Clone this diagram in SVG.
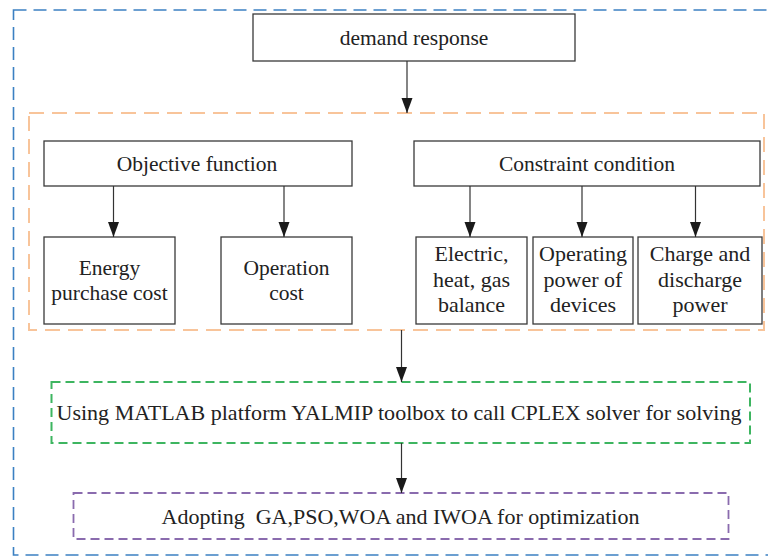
<svg xmlns="http://www.w3.org/2000/svg" width="768" height="556" viewBox="0 0 768 556">
<style>
  .box { fill: #ffffff; stroke: #3a3a3a; stroke-width: 1.3; }
  .conn { stroke: #333333; stroke-width: 1.2; fill: none; marker-end: url(#arr); }
</style>
<defs>
  <marker id="arr" markerUnits="userSpaceOnUse" markerWidth="16" markerHeight="12" refX="15" refY="5.5" orient="auto" viewBox="0 0 16 11">
    <path d="M0,0 L15,5.5 L0,11 Z" fill="#1a1a1a"/>
  </marker>
</defs>
<rect width="768" height="556" fill="#ffffff"/>

<g id="frame-outer">
  <rect x="13.5" y="10" width="770" height="545" fill="none" stroke="#3B80C2" stroke-width="1.6" stroke-dasharray="13,7"/>
</g>
<g id="frame-model">
  <rect x="29" y="113" width="735" height="217" fill="none" stroke="#F8C49A" stroke-width="2" stroke-dasharray="15,8"/>
</g>

<g font-family="'Liberation Serif', 'Times New Roman', serif" font-size="21.5" fill="#222222" text-anchor="middle">
<g id="demand-response">
  <rect class="box" x="253" y="14" width="322" height="47"/>
  <text x="414" y="44.5">demand response</text>
</g>
<g id="objective-function">
  <rect class="box" x="44" y="141" width="308" height="45"/>
  <text x="197" y="171">Objective function</text>
</g>
<g id="constraint-condition">
  <rect class="box" x="414" y="141" width="346" height="45"/>
  <text x="587" y="171">Constraint condition</text>
</g>
<g id="energy-purchase-cost">
  <rect class="box" x="44" y="237" width="131" height="87"/>
  <text x="109.5" y="275">Energy</text>
  <text x="109.5" y="300">purchase cost</text>
</g>
<g id="operation-cost">
  <rect class="box" x="221" y="237" width="131" height="87"/>
  <text x="286.5" y="275">Operation</text>
  <text x="286.5" y="300">cost</text>
</g>
<g id="balance" font-size="22">
  <rect class="box" x="416" y="237" width="111" height="87"/>
  <text x="471.5" y="261">Electric,</text>
  <text x="471.5" y="287">heat, gas</text>
  <text x="471.5" y="312">balance</text>
</g>
<g id="device-power" font-size="22">
  <rect class="box" x="533" y="237" width="100" height="87"/>
  <text x="583" y="261">Operating</text>
  <text x="583" y="287">power of</text>
  <text x="583" y="312">devices</text>
</g>
<g id="charge-discharge" font-size="22">
  <rect class="box" x="638" y="237" width="124" height="87"/>
  <text x="700" y="261">Charge and</text>
  <text x="700" y="287">discharge</text>
  <text x="700" y="312">power</text>
</g>

<g id="solver">
  <rect x="51.5" y="382" width="698.5" height="61" fill="none" stroke="#3DB560" stroke-width="2" stroke-dasharray="9,5"/>
  <text x="399" y="420" textLength="685" lengthAdjust="spacingAndGlyphs">Using MATLAB platform YALMIP toolbox to call CPLEX solver for solving</text>
</g>
<g id="optimization">
  <rect x="73.5" y="493" width="655" height="46" fill="none" stroke="#8A6BAE" stroke-width="1.8" stroke-dasharray="9,5"/>
  <text x="400.5" y="524" textLength="478" lengthAdjust="spacingAndGlyphs" xml:space="preserve">Adopting  GA,PSO,WOA and IWOA for optimization</text>
</g>
</g>

<g id="connectors">
  <line class="conn" x1="407" y1="61" x2="407" y2="113"/>
  <line class="conn" x1="113.5" y1="186" x2="113.5" y2="237"/>
  <line class="conn" x1="284" y1="186" x2="284" y2="237"/>
  <line class="conn" x1="470" y1="186" x2="470" y2="237"/>
  <line class="conn" x1="582" y1="186" x2="582" y2="237"/>
  <line class="conn" x1="695.5" y1="186" x2="695.5" y2="237"/>
  <line class="conn" x1="401.5" y1="330" x2="401.5" y2="382"/>
  <line class="conn" x1="401.5" y1="443" x2="401.5" y2="493"/>
</g>
</svg>
